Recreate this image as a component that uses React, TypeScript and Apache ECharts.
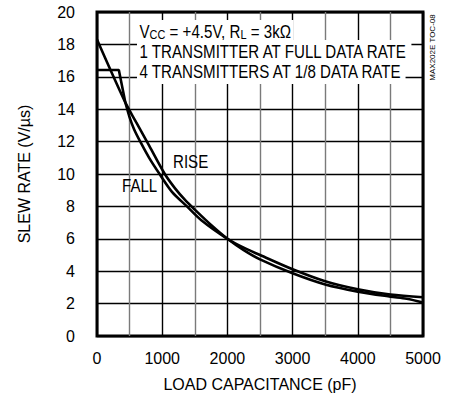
import React, { useEffect, useRef } from "react";
import * as echarts from "echarts";

const FONT = "'Liberation Sans', Arial, sans-serif";

// Load capacitance (pF) vs slew rate (V/µs)
const riseCurve: number[][] = [
  [0, 18.3], [430, 14.45], [600, 13.2], [800, 11.75], [1040, 10.0],
  [1200, 9.1], [1350, 8.4], [1500, 7.8], [1750, 6.85], [2000, 6.0],
  [2250, 5.3], [2500, 4.73], [3000, 3.87], [3500, 3.18], [4000, 2.74],
  [4500, 2.43], [4750, 2.3], [5000, 2.07],
];
const fallStep: number[][] = [[0, 16.42], [335, 16.42], [434, 14.43]];
const fallCurve: number[][] = [
  [434, 14.43], [500, 13.5], [570, 12.75], [670, 11.95], [800, 11.0],
  [960, 10.0], [1150, 8.9], [1380, 8.0], [1600, 7.15], [2000, 6.0],
  [2250, 5.45], [2500, 5.0], [3000, 4.12], [3500, 3.38], [4000, 2.89],
  [4500, 2.56], [5000, 2.39],
];
const xLabelValues = [0, 1000, 2000, 3000, 4000, 5000];
const xAxisTitle = "LOAD CAPACITANCE (pF)";
const yAxisTitle = "SLEW RATE (V/µs)";
const noteLines = [
  "V{sub|CC} = +4.5V, R{sub|L} = 3kΩ",
  "1 TRANSMITTER AT FULL DATA RATE",
  "4 TRANSMITTERS AT 1/8 DATA RATE",
];
const curveLabels = ["RISE", "FALL"];
const tocLabel = "MAX202E TOC-08";

export default function App() {
  const ref = useRef<HTMLDivElement>(null);
  useEffect(() => {
    document.body.style.margin = "0";
    if (!ref.current) return;
    const chart = echarts.init(ref.current, undefined, { renderer: "svg" });
    const lineSeries = (data: number[][], smooth: number | boolean) => ({
      type: "line",
      data,
      smooth,
      showSymbol: false,
      symbol: "none",
      lineStyle: { color: "#000", width: 2.6 },
      z: 5,
    });
    const textEl = (text: string, x: number, y: number, extra: any = {}) => ({
      type: "text",
      x,
      y,
      scaleX: 0.84,
      z: 100,
      style: {
        text,
        fill: "#000",
        fontSize: 18,
        fontFamily: FONT,
        align: "left",
        verticalAlign: "middle",
        textAlign: "left",
        textVerticalAlign: "middle",
        ...extra,
      },
    });
    chart.setOption({
      animation: false,
      backgroundColor: "#fff",
      grid: {
        left: 97,
        right: 28,
        top: 12,
        bottom: 64,
        show: true,
        borderColor: "#000",
        borderWidth: 3,
        backgroundColor: "transparent",
      },
      xAxis: {
        type: "value",
        min: 0,
        max: 5000,
        interval: 500,
        name: xAxisTitle,
        nameLocation: "middle",
        nameGap: 40,
        nameTextStyle: { color: "#000", fontSize: 16, fontFamily: FONT },
        axisLine: { show: false },
        axisTick: { show: false },
        axisLabel: {
          color: "#000",
          fontSize: 16,
          fontFamily: FONT,
          margin: 14,
          showMaxLabel: true,
          formatter: (v: number) => (xLabelValues.includes(v) ? String(v) : ""),
        },
        splitLine: {
          show: true,
          lineStyle: { color: ["#000", "#7a7a7a"], width: 1.4 },
        },
      },
      yAxis: {
        type: "value",
        min: 0,
        max: 20,
        interval: 2,
        name: yAxisTitle,
        nameLocation: "middle",
        nameGap: 65,
        nameTextStyle: { color: "#000", fontSize: 16, fontFamily: FONT },
        axisLine: { show: false },
        axisTick: { show: false },
        axisLabel: { color: "#000", fontSize: 16, fontFamily: FONT, margin: 22 },
        splitLine: { show: true, lineStyle: { color: "#000", width: 1.4 } },
      },
      series: [
        lineSeries(riseCurve, 0.3),
        lineSeries(fallStep, false),
        lineSeries(fallCurve, 0.3),
      ],
      graphic: [
        textEl(noteLines[0], 137, 32, {
          backgroundColor: "#fff",
          padding: [3, 3, 3, 3],
          rich: {
            sub: { fontSize: 13, fontFamily: FONT, verticalAlign: "bottom", fill: "#000" },
          },
        }),
        textEl(noteLines[1], 137, 52, { backgroundColor: "#fff", padding: [3, 3, 3, 3] }),
        textEl(noteLines[2], 137, 72, { backgroundColor: "#fff", padding: [3, 3, 3, 3] }),
        textEl(curveLabels[0], 173, 162),
        textEl(curveLabels[1], 122, 186),
        {
          type: "text",
          x: 432,
          y: 47.5,
          rotation: Math.PI / 2,
          z: 100,
          style: {
            text: tocLabel,
            fill: "#000",
            fontSize: 8,
            fontFamily: FONT,
            align: "center",
            verticalAlign: "middle",
            textAlign: "center",
            textVerticalAlign: "middle",
          },
        },
      ],
    });
    return () => chart.dispose();
  }, []);
  return <div ref={ref} style={{ width: 451, height: 400 }} />;
}
